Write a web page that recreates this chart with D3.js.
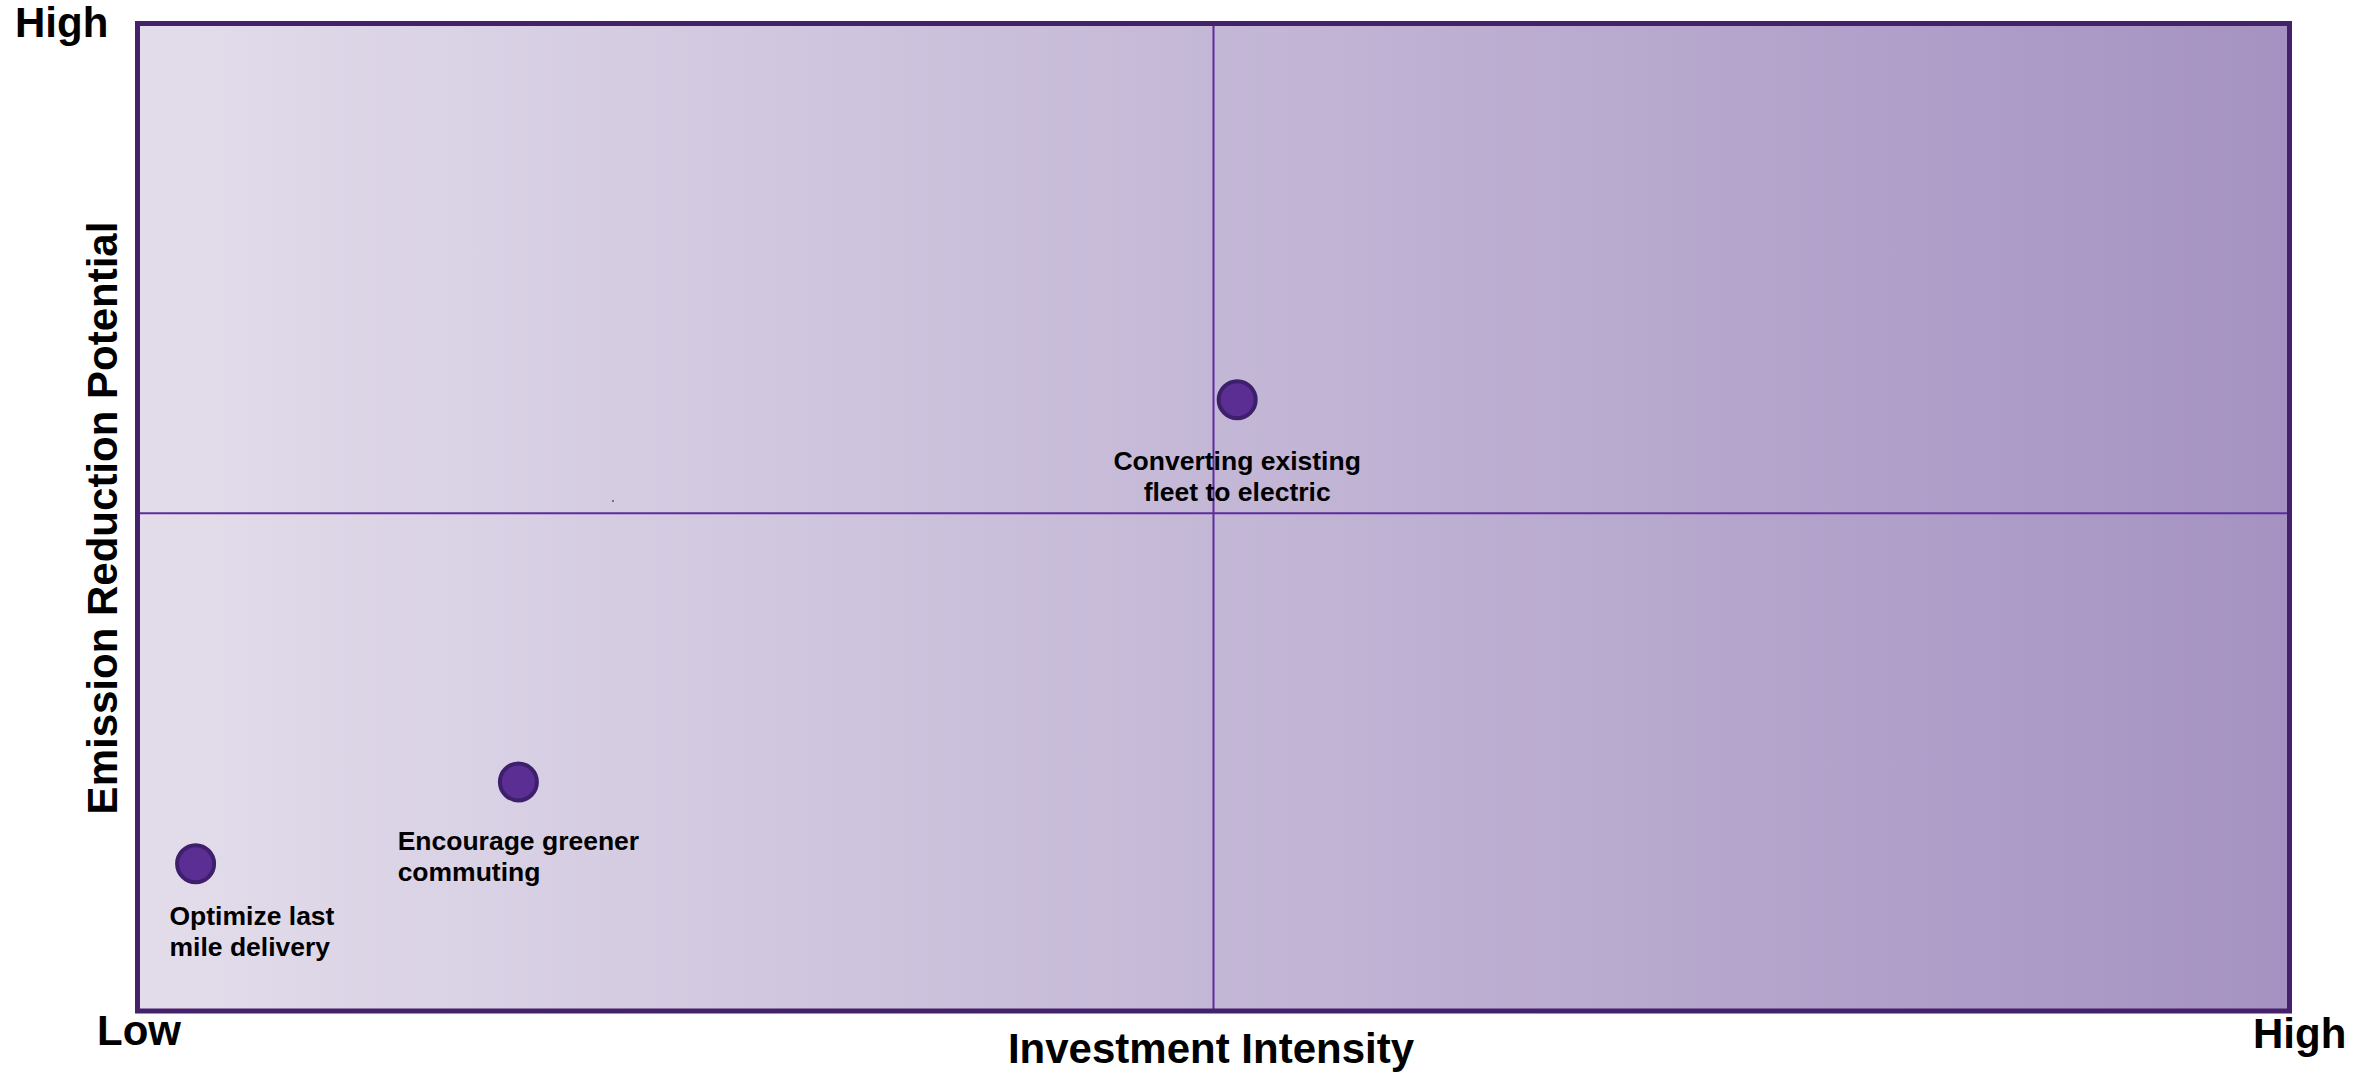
<!DOCTYPE html>
<html>
<head>
<meta charset="utf-8">
<script src="https://cdn.jsdelivr.net/npm/d3@7"></script>
<style>
  html, body { margin: 0; padding: 0; background: #ffffff; }
  svg { display: block; }
  text { font-family: "Liberation Sans", Arial, Helvetica, sans-serif; font-weight: bold; fill: #000; }
</style>
</head>
<body>
<svg id="chart" width="2372" height="1072"></svg>
<script>
// ---- data ----
const initiatives = ["Converting existing fleet to electric", "Encourage greener commuting", "Optimize last mile delivery"];
const labelLines = [["Converting existing", "fleet to electric"], ["Encourage greener", "commuting"], ["Optimize last", "mile delivery"]];
const investment = [5.11, 1.77, 0.27];      // x: Investment Intensity (0–10)
const emission = [6.19, 2.32, 1.49];        // y: Emission Reduction Potential (0–10)
const axisEndLabels = ["Low", "High"];
const xTitle = "Investment Intensity";
const yTitle = "Emission Reduction Potential";
const dividerX = 5.0;
const dividerY = 5.04;

// ---- layout / style ----
const W = 2372, H = 1072;
const plot = { left: 137.5, right: 2289.5, top: 23.5, bottom: 1011 };
const labelAlign = { 0: "middle", 1: "start", 2: "start" };
const labelDy = { 0: 70, 1: 68, 2: 61 };
const labelFont = 26.5, lineH = 31.5;

const svg = d3.select("#chart");
const x = d3.scaleLinear().domain([0, 10]).range([plot.left, plot.right]);
const y = d3.scaleLinear().domain([0, 10]).range([plot.bottom, plot.top]);

const defs = svg.append("defs");
const grad = defs.append("linearGradient").attr("id", "bg").attr("x1", "0%").attr("x2", "100%").attr("y1", "0%").attr("y2", "0%");
grad.append("stop").attr("offset", "0%").attr("stop-color", "#e3ddeb");
grad.append("stop").attr("offset", "100%").attr("stop-color", "#a592c2");

// background
svg.append("rect")
  .attr("x", x(0)).attr("y", y(10))
  .attr("width", x(10) - x(0)).attr("height", y(0) - y(10))
  .attr("fill", "url(#bg)");

// quadrant dividers
svg.append("line")
  .attr("x1", x(dividerX)).attr("x2", x(dividerX))
  .attr("y1", y(10)).attr("y2", y(0))
  .attr("stroke", "#5b2d9c").attr("stroke-width", 2);
svg.append("line")
  .attr("x1", x(0)).attr("x2", x(10))
  .attr("y1", y(dividerY)).attr("y2", y(dividerY))
  .attr("stroke", "#5b2d9c").attr("stroke-width", 2);

// tiny artifact mark
svg.append("rect").attr("x", 612).attr("y", 500).attr("width", 2).attr("height", 2).attr("fill", "#77707f");

// border
svg.append("rect")
  .attr("x", x(0)).attr("y", y(10))
  .attr("width", x(10) - x(0)).attr("height", y(0) - y(10))
  .attr("fill", "none").attr("stroke", "#45206b").attr("stroke-width", 5);

// points
const pts = initiatives.map((name, i) => ({ name, i, x: investment[i], y: emission[i], lines: labelLines[i] }));

svg.append("g").selectAll("circle").data(pts).join("circle")
  .attr("cx", d => x(d.x)).attr("cy", d => y(d.y))
  .attr("r", 18.5)
  .attr("fill", "#5a2e92")
  .attr("stroke", "#3e1f6c").attr("stroke-width", 4);

// labels
const lg = svg.append("g");
pts.forEach(d => {
  const cx = x(d.x), cy = y(d.y);
  const t = lg.append("text").attr("font-size", labelFont);
  d.lines.forEach((ln, k) => t.append("tspan").text(ln));
  // measure block
  const tspans = t.selectAll("tspan").nodes();
  const widths = tspans.map(n => n.getComputedTextLength());
  const bw = d3.max(widths);
  let left = cx - bw / 2;
  left = Math.max(left, plot.left + 32);
  const align = labelAlign[d.i];
  tspans.forEach((n, k) => {
    const s = d3.select(n);
    s.attr("y", cy + labelDy[d.i] + k * lineH);
    if (align === "middle") {
      s.attr("x", left + bw / 2).attr("text-anchor", "middle");
    } else {
      s.attr("x", left).attr("text-anchor", "start");
    }
  });
});

// end labels
svg.append("text").attr("x", 15).attr("y", 37).attr("font-size", 42).text(axisEndLabels[1]);
svg.append("text").attr("x", 97).attr("y", 1045).attr("font-size", 42).text(axisEndLabels[0]);
svg.append("text").attr("x", 2253).attr("y", 1048).attr("font-size", 42).text(axisEndLabels[1]);

// axis titles
svg.append("text").attr("x", 1211).attr("y", 1063).attr("text-anchor", "middle").attr("font-size", 42).text(xTitle);
svg.append("text")
  .attr("transform", `translate(117,518) rotate(-90)`)
  .attr("text-anchor", "middle").attr("font-size", 42).text(yTitle);
</script>
</body>
</html>
